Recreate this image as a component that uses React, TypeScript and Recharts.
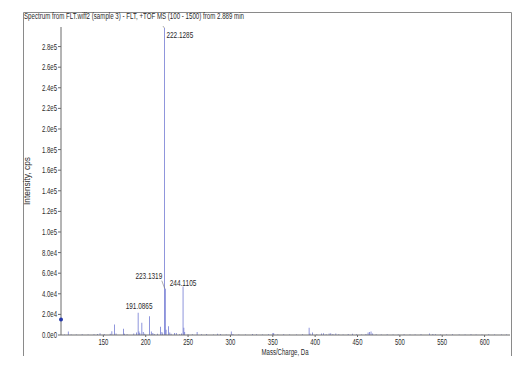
import React from 'react';
import { ComposedChart, Bar, XAxis, YAxis, ReferenceDot } from 'recharts';

const titleText = 'Spectrum from FLT.wiff2 (sample 3) - FLT, +TOF MS (100 - 1500) from 2.889 min';
const xAxisTitle = 'Mass/Charge, Da';
const yAxisTitle = 'Intensity, cps';

const mzValues = [
  104.0, 108.6, 112.0, 118.0, 125.0, 132.0, 139.0, 143.0, 146.1, 151.0,
  158.1, 160.1, 163.1, 165.0, 173.8, 175.1, 178.0, 186.0, 189.1, 191.0865,
  192.1, 193.1, 195.5, 197.1, 199.0, 204.6, 206.6, 208.5, 210.1, 214.0,
  217.6, 219.2, 220.1, 222.1285, 223.1319, 224.1, 227.0, 228.5, 230.0, 234.0,
  236.1, 240.0, 242.1, 244.1105, 245.1, 246.1, 250.0, 255.0, 260.7, 266.0,
  272.0, 280.0, 285.0, 288.1, 295.0, 301.0, 303.0, 310.0, 318.0, 326.0,
  331.0, 338.0, 345.0, 350.2, 351.2, 356.0, 363.0, 370.0, 378.0, 385.0,
  392.9, 394.0, 397.0, 402.0, 407.5, 410.0, 413.0, 416.5, 418.5, 421.0,
  424.5, 428.0, 433.0, 439.0, 444.0, 449.0, 455.0, 460.0, 462.5, 464.2,
  466.0, 468.0, 472.0, 478.0, 485.0, 492.0, 498.0, 505.0, 512.0, 518.0,
  525.0, 535.0, 539.0, 542.0, 548.0, 555.0, 562.0, 570.0, 577.0, 584.0,
  590.0, 597.0, 605.0, 612.0, 620.0, 626.0,
];

const intensities = [
  500, 3500, 600, 500, 700, 600, 800, 900, 1800, 900,
  1200, 3700, 10200, 1500, 6000, 1200, 800, 1500, 2500, 21500,
  3500, 2000, 11800, 3000, 1200, 18200, 3500, 2000, 1000, 1300,
  8000, 3000, 1500, 298000, 45000, 5000, 8500, 2500, 1200, 2000,
  2000, 800, 1500, 47000, 7000, 3000, 800, 700, 3000, 800,
  900, 600, 1200, 900, 600, 3500, 900, 500, 600, 900,
  700, 500, 700, 2000, 1600, 600, 700, 500, 600, 800,
  7000, 1500, 2500, 700, 1500, 1800, 800, 1500, 1800, 900,
  1500, 700, 600, 900, 1100, 700, 600, 900, 2500, 3000,
  3500, 1500, 800, 600, 700, 500, 600, 700, 500, 600,
  800, 1500, 1000, 700, 600, 500, 700, 600, 500, 700,
  600, 500, 700, 600, 500, 600,
];

const xTicks = [150, 200, 250, 300, 350, 400, 450, 500, 550, 600];
const yTicks = [0, 20000, 40000, 60000, 80000, 100000, 120000, 140000, 160000, 180000, 200000, 220000, 240000, 260000, 280000];
const peakLabels = ['222.1285', '223.1319', '244.1105', '191.0865'];
const markerMz = [100];
const markerIntensity = [15000];

const data = mzValues.map((mz, i) => ({ mz, intensity: intensities[i] }));

const FONT = '"Liberation Sans", Arial, sans-serif';
const TEXT_COLOR = '#2a2a2a';
const STICK = '#5d66cc';

const fmtY = (v: number) => v.toExponential(1).replace('+', '');

const YTick = (props: any) => {
  const { x, y, payload } = props;
  const s = fmtY(payload.value);
  return (
    <text x={x} y={y + 3} textAnchor="end" fontFamily={FONT} fontSize={8.5} fill={TEXT_COLOR}
      textLength={s.length * 3} lengthAdjust="spacingAndGlyphs">{s}</text>
  );
};

const XTick = (props: any) => {
  const { x, y, payload } = props;
  const s = String(payload.value);
  return (
    <text x={x} y={y + 6} textAnchor="middle" fontFamily={FONT} fontSize={8.5} fill={TEXT_COLOR}
      textLength={s.length * 3.3} lengthAdjust="spacingAndGlyphs">{s}</text>
  );
};

const renderPeakLabel = (props: any) => {
  const { x, y, width, index } = props;
  const d = data[index];
  if (!d) return null;
  const which = peakLabels.findIndex((l) => Number(l) === d.mz);
  if (which < 0) return null;
  const s = peakLabels[which];
  const cx = x + width / 2;
  const tl = s.length * 3.35;
  const common = { fontFamily: FONT, fontSize: 8.5, fill: TEXT_COLOR, textLength: tl, lengthAdjust: 'spacingAndGlyphs' as const };
  if (which === 0) {
    return (
      <g>
        <line x1={cx} y1={y} x2={cx - 1.5} y2={y - 2} stroke="#777" strokeWidth={0.6} />
        <text x={cx + 2} y={y + 10} textAnchor="start" {...common}>{s}</text>
      </g>
    );
  }
  if (which === 1) {
    return (
      <g>
        <line x1={cx - 0.5} y1={y} x2={cx - 3.5} y2={y - 8} stroke="#777" strokeWidth={0.6} />
        <text x={cx - 3} y={y - 10} textAnchor="end" {...common}>{s}</text>
      </g>
    );
  }
  if (which === 2) {
    return <text x={cx} y={y - 1} textAnchor="middle" {...common}>{s}</text>;
  }
  return <text x={cx + 1} y={y - 3.5} textAnchor="middle" {...common}>{s}</text>;
};

export default function App() {
  return (
    <div style={{ position: 'absolute', left: 0, top: 0, width: 530, height: 369, background: '#fff' }}>
      <ComposedChart
        width={530}
        height={369}
        data={data}
        margin={{ top: 27, right: 20, bottom: 0, left: 0 }}
      >
        <XAxis
          dataKey="mz"
          type="number"
          domain={[100, 630]}
          ticks={xTicks}
          allowDataOverflow
          height={34}
          tickSize={2}
          tickMargin={2}
          stroke="#6a6a6a"
          tick={<XTick />}
          interval={0}
        />
        <YAxis
          type="number"
          domain={[0, 299000]}
          ticks={yTicks}
          allowDataOverflow
          width={61}
          tickSize={3}
          tickMargin={1}
          stroke="#6a6a6a"
          tick={<YTick />}
          interval={0}
        />
        <Bar
          dataKey="intensity"
          fill={STICK}
          barSize={1}
          isAnimationActive={false}
          label={renderPeakLabel}
        />
        <ReferenceDot x={markerMz[0]} y={markerIntensity[0]} r={2} fill="#2436a8" stroke="none" ifOverflow="visible" />
      </ComposedChart>
      <svg width={530} height={369} style={{ position: 'absolute', left: 0, top: 0, pointerEvents: 'none' }}>
        <polyline points="23.5,356 23.5,12.5 511.5,12.5 511.5,356" fill="none" stroke="#8a8a8a" strokeWidth={1} />
        <text x={24} y={19} fontFamily={FONT} fontSize={8.5} fill={TEXT_COLOR} textLength={220} lengthAdjust="spacingAndGlyphs">{titleText}</text>
        <text x={285} y={355} textAnchor="middle" fontFamily={FONT} fontSize={8.5} fill={TEXT_COLOR} textLength={47} lengthAdjust="spacingAndGlyphs">{xAxisTitle}</text>
        <text x={0} y={0} transform="translate(30,181) rotate(-90)" textAnchor="middle" fontFamily={FONT} fontSize={8.5} fill={TEXT_COLOR} textLength={48} lengthAdjust="spacingAndGlyphs">{yAxisTitle}</text>
      </svg>
    </div>
  );
}
